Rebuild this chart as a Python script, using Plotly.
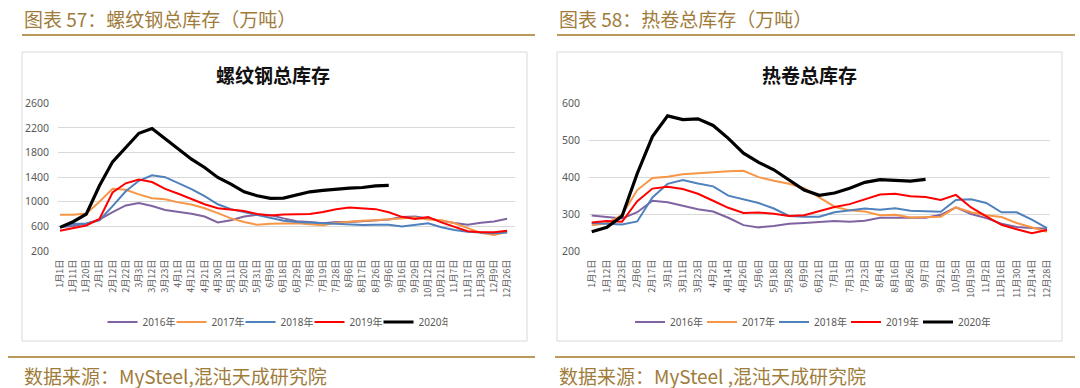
import plotly.graph_objects as go

# ---------------- data ----------------
rebar_dates = ["1月1日", "1月11日", "1月20日", "2月1日", "2月12日", "2月22日", "3月3日", "3月12日",
               "3月23日", "4月1日", "4月12日", "4月21日", "4月30日", "5月11日", "5月20日", "5月31日",
               "6月9日", "6月18日", "6月29日", "7月8日", "7月19日", "7月28日", "8月6日", "8月17日",
               "8月26日", "9月6日", "9月16日", "9月29日", "10月12日", "10月21日", "11月7日", "11月17日",
               "11月30日", "12月9日", "12月26日"]

rebar_2016 = [584, 605, 645, 710, 830, 940, 978, 930, 865, 835, 805, 760, 665, 700, 760, 789, 786, 730,
              685, 670, 650, 670, 670, 685, 700, 712, 752, 760, 730, 690, 655, 625, 660, 680, 725]
rebar_2017 = [790, 789, 810, 1000, 1210, 1195, 1120, 1058, 1040, 990, 955, 895, 815, 730, 670, 625, 643,
              643, 650, 635, 620, 660, 680, 690, 700, 715, 730, 745, 710, 700, 650, 570, 495, 460, 510]
rebar_2018 = [584, 640, 648, 700, 930, 1170, 1340, 1430, 1400, 1300, 1205, 1090, 960, 880, 830, 790, 740,
              690, 670, 660, 640, 630, 625, 622, 625, 625, 600, 620, 650, 585, 540, 514, 503, 490, 500]
rebar_2019 = [530, 568, 615, 720, 1150, 1300, 1360, 1320, 1210, 1130, 1040, 960, 895, 870, 850, 800, 775,
              795, 800, 800, 835, 880, 905, 895, 880, 830, 755, 720, 750, 665, 590, 520, 503, 505, 530]
rebar_2020 = [584, 676, 800, 1260, 1649, 1881, 2113, 2189, 2027, 1870, 1692, 1557, 1395, 1286, 1162,
              1097, 1054, 1059, 1108, 1162, 1184, 1205, 1222, 1232, 1259, 1265]

hrc_dates = ["1月1日", "1月12日", "1月23日", "2月6日", "2月17日", "3月1日", "3月11日", "3月23日", "4月2日",
             "4月14日", "4月26日", "5月6日", "5月18日", "5月28日", "6月9日", "6月21日", "7月1日", "7月13日",
             "7月23日", "8月4日", "8月16日", "8月26日", "9月7日", "9月21日", "10月5日", "10月19日",
             "11月2日", "11月16日", "11月30日", "12月14日", "12月28日"]

hrc_2016 = [296, 293, 288, 305, 336, 332, 322, 313, 307, 290, 270, 264, 268, 274, 276, 278, 281, 279,
            282, 290, 290, 290, 290, 298, 318, 300, 289, 274, 265, 262, 260]
hrc_2017 = [270, 275, 298, 365, 398, 401, 408, 411, 414, 416, 417, 400, 390, 382, 370, 345, 320, 310,
            307, 297, 298, 291, 293, 293, 318, 305, 297, 292, 276, 265, 252]
hrc_2018 = [276, 273, 272, 280, 345, 382, 392, 383, 375, 350, 340, 330, 315, 295, 293, 293, 305, 311,
            315, 312, 316, 309, 308, 306, 338, 340, 330, 305, 305, 285, 262]
hrc_2019 = [277, 281, 279, 335, 369, 374, 368, 355, 336, 317, 303, 304, 301, 295, 297, 309, 319, 327,
            340, 353, 355, 348, 346, 338, 352, 318, 294, 271, 259, 248, 257]
hrc_2020 = [252, 264, 295, 410, 510, 566, 556, 558, 540, 505, 465, 440, 420, 392, 365, 351, 357, 370,
            386, 393, 391, 389, 394]

years = ["2016年", "2017年", "2018年", "2019年", "2020年"]
colors = ["#8064A2", "#F79646", "#4F81BD", "#FF0000", "#000000"]
widths = [2, 2, 2, 2, 3.2]

header_left = "图表 57：螺纹钢总库存（万吨）"
header_right = "图表 58：热卷总库存（万吨）"
title_left = "螺纹钢总库存"
title_right = "热卷总库存"
source_left = "数据来源：MySteel,混沌天成研究院"
source_right = "数据来源：MySteel ,混沌天成研究院"

# ---------------- figure ----------------
W, H = 1080, 388
def px(x):
    return x / W
def py(y):
    return 1 - y / H

fig = go.Figure()
rebar_series = [rebar_2016, rebar_2017, rebar_2018, rebar_2019, rebar_2020]
hrc_series = [hrc_2016, hrc_2017, hrc_2018, hrc_2019, hrc_2020]

for name, c, w, vals in zip(years, colors, widths, rebar_series):
    fig.add_trace(go.Scatter(x=rebar_dates[:len(vals)], y=vals, mode="lines", name=name,
                             line=dict(color=c, width=w), xaxis="x", yaxis="y", legend="legend"))
for name, c, w, vals in zip(years, colors, widths, hrc_series):
    fig.add_trace(go.Scatter(x=hrc_dates[:len(vals)], y=vals, mode="lines", name=name,
                             line=dict(color=c, width=w), xaxis="x2", yaxis="y2", legend="legend2"))

tick_font = dict(family="Noto Sans CJK SC, Noto Sans", size=9, color="#595959")
ytick_font = dict(family="Noto Sans, Noto Sans CJK SC", size=10.5, color="#595959")

yd = [py(251), py(103.3)]
fig.update_layout(
    width=W, height=H, autosize=False,
    margin=dict(l=0, r=0, t=0, b=0, autoexpand=False),
    paper_bgcolor="white", plot_bgcolor="white",
    xaxis=dict(domain=[px(58), px(515)], type="category", range=[-0.15, 34.6],
               tickangle=-90, tickfont=tick_font, showgrid=False, showline=False,
               ticks="", ticklabelstandoff=6, anchor="y", automargin=False),
    yaxis=dict(domain=yd, range=[200, 2600], dtick=400, tick0=200, tickfont=ytick_font,
               showgrid=True, gridcolor="#d9d9d9", gridwidth=1, zeroline=False,
               showline=False, ticks="", ticklabelstandoff=8, anchor="x", automargin=False),
    xaxis2=dict(domain=[px(589), px(1050)], type="category", range=[-0.18, 30.2],
                tickangle=-90, tickfont=tick_font, showgrid=False, showline=False,
                ticks="", ticklabelstandoff=6, anchor="y2", automargin=False),
    yaxis2=dict(domain=yd, range=[200, 600], dtick=100, tickfont=ytick_font,
                showgrid=True, gridcolor="#d9d9d9", gridwidth=1, zeroline=False,
                showline=False, ticks="", ticklabelstandoff=8, anchor="x2", automargin=False),
    legend=dict(orientation="h", x=px(275), y=py(322), xanchor="center", yanchor="middle",
                font=dict(family="Noto Sans, Noto Sans CJK SC", size=10, color="#595959"),
                entrywidth=24, entrywidthmode="pixels", bgcolor="rgba(0,0,0,0)"),
    legend2=dict(orientation="h", x=px(810), y=py(322), xanchor="center", yanchor="middle",
                 font=dict(family="Noto Sans, Noto Sans CJK SC", size=10, color="#595959"),
                 entrywidth=27, entrywidthmode="pixels", bgcolor="rgba(0,0,0,0)"),
    showlegend=True,
)

gold_text = "#A07C3B"
gold_line = "#B99A5B"
box = "#D9D9D9"
shapes = [
    dict(type="rect", xref="paper", yref="paper", x0=px(22), x1=px(527), y0=py(341), y1=py(52),
         line=dict(color=box, width=1), layer="below"),
    dict(type="rect", xref="paper", yref="paper", x0=px(557), x1=px(1062), y0=py(341), y1=py(52),
         line=dict(color=box, width=1), layer="below"),
    dict(type="line", xref="paper", yref="paper", x0=px(22), x1=px(535), y0=py(35), y1=py(35),
         line=dict(color=gold_line, width=2)),
    dict(type="line", xref="paper", yref="paper", x0=px(557), x1=px(1075), y0=py(35), y1=py(35),
         line=dict(color=gold_line, width=2)),
    dict(type="line", xref="paper", yref="paper", x0=px(8), x1=px(535), y0=py(357), y1=py(357),
         line=dict(color=gold_line, width=2)),
    dict(type="line", xref="paper", yref="paper", x0=px(555), x1=px(1075), y0=py(357), y1=py(357),
         line=dict(color=gold_line, width=2)),
]
fig.update_layout(shapes=shapes)

ann = []
for txt, x in [(header_left, 22), (header_right, 557)]:
    ann.append(dict(text=txt, xref="paper", yref="paper", x=px(x), y=py(18), xanchor="left",
                    yanchor="middle", showarrow=False,
                    font=dict(family="Noto Sans CJK SC", size=19, color=gold_text)))
for txt, x in [(title_left, 273), (title_right, 809)]:
    ann.append(dict(text="<b>" + txt + "</b>", xref="paper", yref="paper", x=px(x), y=py(75),
                    xanchor="center", yanchor="middle", showarrow=False,
                    font=dict(family="Noto Sans CJK SC", size=19, color="#111111")))
for txt, x in [(source_left, 22), (source_right, 557)]:
    ann.append(dict(text=txt, xref="paper", yref="paper", x=px(x), y=py(375), xanchor="left",
                    yanchor="middle", showarrow=False,
                    font=dict(family="Noto Sans CJK SC", size=19, color=gold_text)))
fig.update_layout(annotations=ann)

fig.write_html("out.html", config={"displayModeBar": False},
               post_script="document.body.style.margin='0';document.body.style.overflow='hidden';")
